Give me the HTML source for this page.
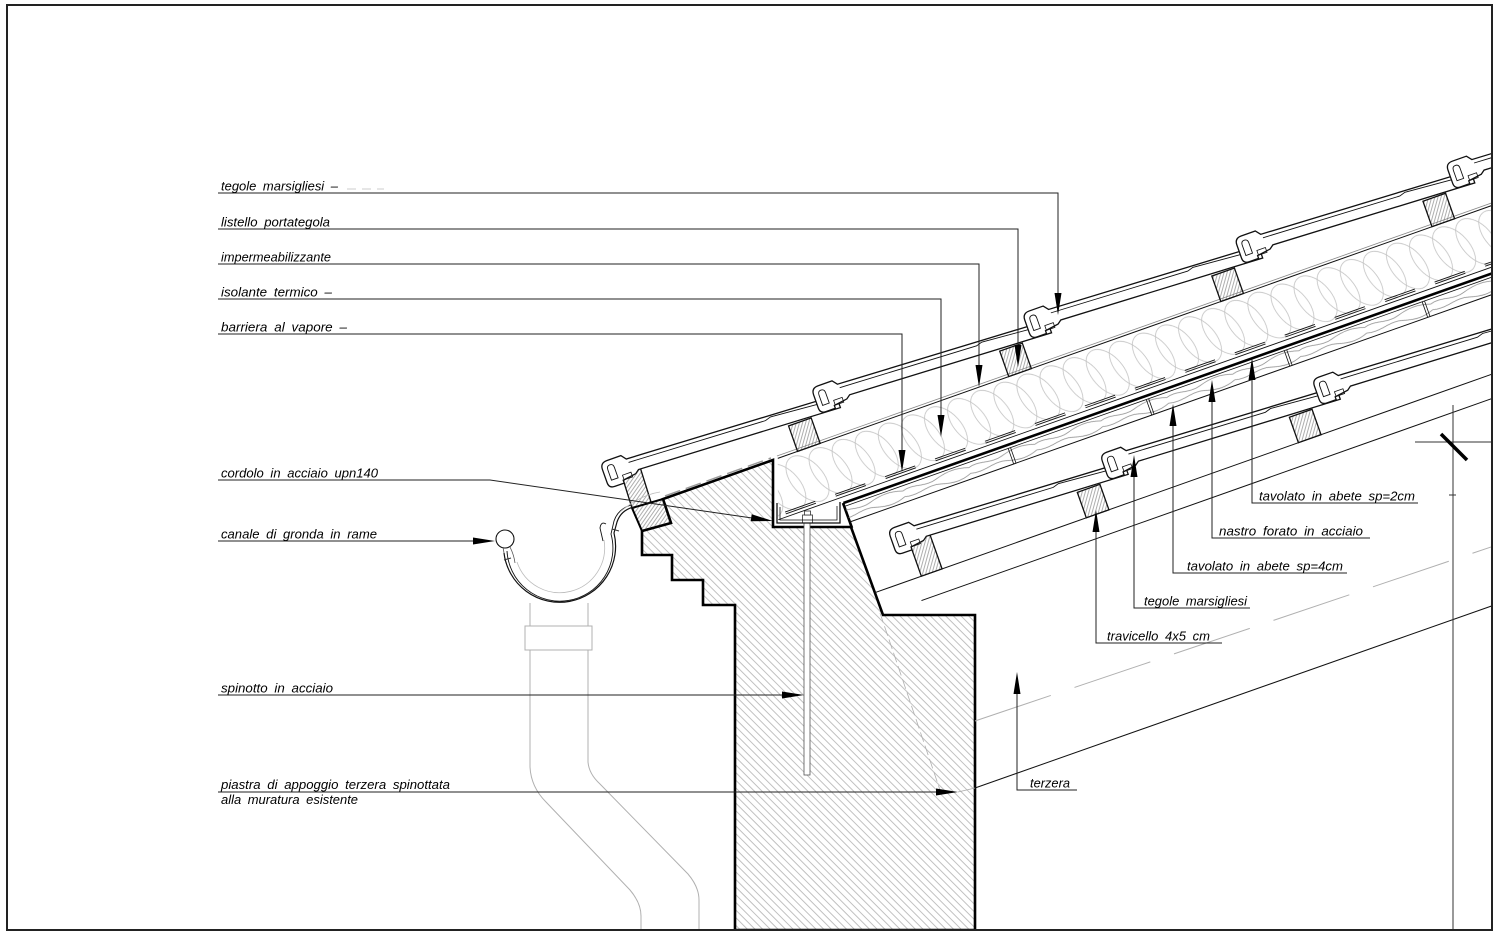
<!DOCTYPE html>
<html><head><meta charset="utf-8">
<style>
html,body{margin:0;padding:0;background:#fff}
svg{display:block}
text{font-family:"Liberation Sans",sans-serif;font-style:italic;font-size:13px;fill:#000;word-spacing:3px}
</style></head>
<body>
<svg width="1500" height="938" viewBox="0 0 1500 938" xmlns="http://www.w3.org/2000/svg">
<defs>
<clipPath id="fr"><rect x="8" y="6" width="1483" height="923"/></clipPath>
<pattern id="hatch" patternUnits="userSpaceOnUse" width="5.4" height="10" patternTransform="rotate(-45)"><line x1="1" y1="-1" x2="1" y2="11" stroke="#b2b2b2" stroke-width="0.8"/></pattern>
<pattern id="bh" patternUnits="userSpaceOnUse" width="3" height="6" patternTransform="rotate(35)"><line x1="1" y1="-1" x2="1" y2="7" stroke="#777" stroke-width="0.6"/></pattern>
<pattern id="ins" patternUnits="userSpaceOnUse" x="0" y="-64" width="24.5" height="58">
<g fill="none" stroke="#c2c2c2" stroke-width="0.8">
<ellipse cx="-12.25" cy="29" rx="16" ry="27" transform="rotate(-22 -12.25 29)"/>
<ellipse cx="12.25" cy="29" rx="16" ry="27" transform="rotate(-22 12.25 29)"/>
<ellipse cx="36.75" cy="29" rx="16" ry="27" transform="rotate(-22 36.75 29)"/>
</g></pattern>
<pattern id="wood" patternUnits="userSpaceOnUse" x="0" y="3.5" width="70" height="16.5"><path d="M0,5 C12,1 22,9 35,5 S58,1 70,5 M0,11 C14,15 25,7 38,11 S60,15 70,11" fill="none" stroke="#8a8a8a" stroke-width="0.75"/></pattern>
<g id="tile">
<path d="M7,0 L22,0 L26,5 L245,15 L245,28 L34,19 L30,22 L16,24 L16,27 L6,27 Q0,27 0,21 L0,7 Q0,0 7,0 Z" fill="#fff" stroke="#111" stroke-width="1.3"/>
<path d="M27,9 L170,15.3 L176,13.5 L240,18.5" fill="none" stroke="#111" stroke-width="0.9"/>
<path d="M5,9 Q5,5 8.5,5 Q12,5 12,9 L12,20 L5,20 Z" fill="none" stroke="#111" stroke-width="0.9"/>
<path d="M17,19 L26,19 L26,24 L17,24 Z" fill="none" stroke="#111" stroke-width="0.8"/>
</g>
</defs>

<rect x="0" y="0" width="1500" height="938" fill="#fff"/>

<g clip-path="url(#fr)">
<!-- concrete wall / cordolo -->
<polygon points="773,460 773,527 851,527 883,615 975,615 975,930 735,930 735,605 703,605 703,580 672,580 672,555 642,555 642,531 671,523 663,499" fill="url(#hatch)" stroke="#000" stroke-width="2.6" stroke-linejoin="miter"/>
<line x1="843" y1="503" x2="852" y2="528" stroke="#000" stroke-width="2.6"/>
<line x1="880" y1="613" x2="940" y2="790" stroke="#b0b0b0" stroke-width="0.8" stroke-dasharray="10 4"/>
<line x1="958" y1="792" x2="975" y2="788" stroke="#aaa" stroke-width="0.8"/>
<path d="M665,496 L771,458" stroke="#999" stroke-width="1.5" stroke-dasharray="16 6" fill="none"/>

<!-- eave blocks -->
<polygon points="621,473 640,467 651,502 632,508" fill="url(#bh)" stroke="#111" stroke-width="1.3"/>
<polygon points="632,508 663,499 671,523 642,531" fill="url(#bh)" stroke="#000" stroke-width="2"/>

<!-- pin -->
<rect x="804" y="523" width="6" height="252" fill="#fff" stroke="#555" stroke-width="0.8"/>
<rect x="802.5" y="515" width="10" height="8" fill="#fff" stroke="#333" stroke-width="0.8"/>
<rect x="804.5" y="511" width="6" height="4" fill="#fff" stroke="#333" stroke-width="0.8"/>

<!-- roof assembly (rotated) -->
<g transform="translate(900,483) rotate(-19.5)">
<polygon points="-107,-64 -127.3,-6 760,-6 760,-64" fill="url(#ins)"/>
<line x1="-107" y1="-64" x2="760" y2="-64" stroke="#111" stroke-width="1"/>
<line x1="-107" y1="-66.5" x2="760" y2="-66.5" stroke="#888" stroke-width="0.8"/>
<line x1="-127" y1="-6" x2="760" y2="-6" stroke="#111" stroke-width="0.9"/>
<line x1="-118" y1="-9" x2="760" y2="-9" stroke="#111" stroke-width="0.9" stroke-dasharray="32 21"/>
<line x1="-118" y1="-11" x2="760" y2="-11" stroke="#111" stroke-width="0.9" stroke-dasharray="32 21"/>
<rect x="-60" y="3.5" width="820" height="16.5" fill="url(#wood)"/>
<line x1="-60" y1="0" x2="760" y2="0" stroke="#000" stroke-width="2.6"/>
<line x1="-60" y1="3.5" x2="760" y2="3.5" stroke="#111" stroke-width="0.8"/>
<line x1="-60" y1="20" x2="760" y2="20" stroke="#111" stroke-width="1"/>
<path d="M113.5,3.5V20 M116,3.5V20 M260,3.5V20 M262.5,3.5V20 M406.4,3.5V20 M409,3.5V20 M552.7,3.5V20 M555.2,3.5V20" stroke="#111" stroke-width="0.8"/>

<!-- upper battens -->
<g fill="url(#bh)" stroke="#111" stroke-width="1.3">
<rect x="-86" y="-91" width="24" height="27"/>
<rect x="138" y="-91" width="24" height="27"/>
<rect x="363" y="-91" width="24" height="27"/>
<rect x="587" y="-91" width="24" height="27"/>
</g>
<!-- upper tiles -->
<use href="#tile" x="-276" y="-119"/>
<use href="#tile" x="-52" y="-119"/>
<use href="#tile" x="172" y="-119"/>
<use href="#tile" x="397" y="-119"/>
<use href="#tile" x="621" y="-119"/>

<!-- lower roof -->
<line x1="-60" y1="95" x2="760" y2="95" stroke="#111" stroke-width="1"/>
<line x1="-19" y1="118" x2="760" y2="118" stroke="#111" stroke-width="1"/>
<g fill="url(#bh)" stroke="#111" stroke-width="1.3">
<rect x="-11" y="55" width="22" height="40"/>
<rect x="164" y="68" width="24" height="27"/>
<rect x="389" y="68" width="24" height="27"/>
<rect x="614" y="68" width="24" height="27"/>
</g>
<use href="#tile" x="-27" y="40"/>
<use href="#tile" x="198" y="40"/>
<use href="#tile" x="423" y="40"/>
<use href="#tile" x="648" y="40"/>
</g>

<!-- UPN channel -->
<path d="M777,503 L777,523 L840,523 L840,502" fill="none" stroke="#111" stroke-width="1.3"/>
<path d="M780,507 L780,520 L837,520 L837,506" fill="none" stroke="#111" stroke-width="0.8"/>

<!-- terzera lines -->
<line x1="975" y1="721" x2="1500" y2="544" stroke="#b0b0b0" stroke-width="1" stroke-dasharray="80 25"/>
<line x1="975" y1="788" x2="1500" y2="603" stroke="#111" stroke-width="1"/>

<!-- gutter -->
<path d="M504,553 A56,56 0 1,0 614,533 L617,522 Q621,510 634,507" fill="none" stroke="#111" stroke-width="1.2"/>
<path d="M507,551 A53,53 0 1,0 611,534 L614,521 Q618,509 631,505" fill="none" stroke="#111" stroke-width="0.9"/>
<path d="M517,562 A45,45 0 0,0 604,540" fill="none" stroke="#bbb" stroke-width="0.8"/>
<path d="M620,512 Q640,495 660,492" fill="none" stroke="#bbb" stroke-width="0.8"/>
<circle cx="505" cy="539" r="9" fill="#fff" stroke="#111" stroke-width="1.1"/>
<path d="M504,553 L503,547 M510,547 Q514,555 515,563" fill="none" stroke="#555" stroke-width="0.8"/>
<path d="M603,541 L600,528 Q601,521 606,524" fill="none" stroke="#111" stroke-width="0.9"/>
<path d="M612,529 L619,531 M504,560 L511,558" stroke="#333" stroke-width="1"/>

<!-- downpipe -->
<g fill="none" stroke="#b0b0b0" stroke-width="1">
<path d="M530,603 L530,767 Q531,787 546,802 L630,890 Q641,903 641,916 L641,932"/>
<path d="M588,603 L588,762 Q589,774 600,784 L688,874 Q699,887 699,900 L699,932"/>
<rect x="525" y="626" width="67" height="24" fill="#fff"/>
</g>

<!-- right edge elements -->
<line x1="1453" y1="405" x2="1453" y2="930" stroke="#333" stroke-width="1"/>
<line x1="1415" y1="442" x2="1492" y2="442" stroke="#333" stroke-width="1"/>
<line x1="1449" y1="495" x2="1456" y2="495" stroke="#333" stroke-width="1"/>
<line x1="1441" y1="434" x2="1467" y2="460" stroke="#000" stroke-width="3.5"/>
</g>

<!-- frame -->
<rect x="7" y="5" width="1485" height="925" fill="none" stroke="#222" stroke-width="2"/>

<!-- LEFT LABELS -->
<g stroke="#222" stroke-width="1" fill="none">
<path d="M218,193 H1058 V296"/>
<path d="M218,229 H1018 V348"/>
<path d="M218,264 H979 V368"/>
<path d="M218,299 H941 V418"/>
<path d="M218,334 H902 V453"/>
<path d="M218,480 H490 L752,518"/>
<path d="M218,541 H475"/>
<path d="M218,695 H784"/>
<path d="M218,792 H938"/>
</g>
<path d="M347,189 H356 M362,189 H371 M377,189 H384" stroke="#ccc" stroke-width="1"/>
<g fill="#000">
<polygon points="1054.5,293 1061.5,293 1058,315"/>
<polygon points="1014.5,345 1021.5,345 1018,367"/>
<polygon points="975.5,365 982.5,365 979,387"/>
<polygon points="937.5,415 944.5,415 941,437"/>
<polygon points="898.5,450 905.5,450 902,472"/>
<polygon points="751.7,514.3 750.7,521.3 773,521"/>
<polygon points="473,537.5 473,544.5 495,541"/>
<polygon points="782,691.5 782,698.5 804,695"/>
<polygon points="936,788.5 936,795.5 958,792"/>
</g>
<text x="221" y="190.5" textLength="117" lengthAdjust="spacingAndGlyphs">tegole marsigliesi –</text>
<text x="221" y="226.5" textLength="109" lengthAdjust="spacingAndGlyphs">listello portategola</text>
<text x="221" y="261.5" textLength="110" lengthAdjust="spacingAndGlyphs">impermeabilizzante</text>
<text x="221" y="296.5" textLength="111" lengthAdjust="spacingAndGlyphs">isolante termico –</text>
<text x="221" y="331.5" textLength="126" lengthAdjust="spacingAndGlyphs">barriera al vapore –</text>
<text x="221" y="477.5" textLength="157" lengthAdjust="spacingAndGlyphs">cordolo in acciaio upn140</text>
<text x="221" y="538.5" textLength="156" lengthAdjust="spacingAndGlyphs">canale di gronda in rame</text>
<text x="221" y="692.5" textLength="112" lengthAdjust="spacingAndGlyphs">spinotto in acciaio</text>
<text x="221" y="789" textLength="229" lengthAdjust="spacingAndGlyphs">piastra di appoggio terzera spinottata</text>
<text x="221" y="804" textLength="137" lengthAdjust="spacingAndGlyphs">alla muratura esistente</text>

<!-- RIGHT LABELS -->
<g stroke="#222" stroke-width="1" fill="none">
<path d="M1418,503 H1252 V378"/>
<path d="M1370,538 H1212 V400"/>
<path d="M1347,573 H1173 V424"/>
<path d="M1250,608 H1134 V475"/>
<path d="M1222,643 H1096 V530"/>
<path d="M1077,790 H1017 V692"/>
</g>
<g fill="#000">
<polygon points="1248.5,380 1255.5,380 1252,358"/>
<polygon points="1208.5,402 1215.5,402 1212,380"/>
<polygon points="1169.5,426 1176.5,426 1173,404"/>
<polygon points="1130.5,477 1137.5,477 1134,455"/>
<polygon points="1092.5,532 1099.5,532 1096,510"/>
<polygon points="1013.5,694 1020.5,694 1017,672"/>
</g>
<text x="1259" y="500.5" textLength="156" lengthAdjust="spacingAndGlyphs">tavolato in abete sp=2cm</text>
<text x="1219" y="535.5" textLength="144" lengthAdjust="spacingAndGlyphs">nastro forato in acciaio</text>
<text x="1187" y="570.5" textLength="156" lengthAdjust="spacingAndGlyphs">tavolato in abete sp=4cm</text>
<text x="1144" y="605.5" textLength="103" lengthAdjust="spacingAndGlyphs">tegole marsigliesi</text>
<text x="1107" y="640.5" textLength="103" lengthAdjust="spacingAndGlyphs">travicello 4x5 cm</text>
<text x="1030" y="787.5" textLength="40" lengthAdjust="spacingAndGlyphs">terzera</text>
</svg>
</body></html>
